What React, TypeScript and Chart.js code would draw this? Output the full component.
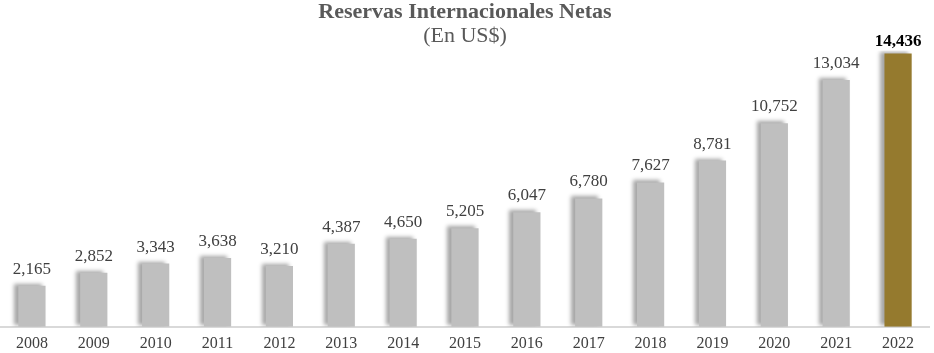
import React, { useEffect, useRef } from "react";
import { Chart, registerables } from "chart.js";

Chart.register(...registerables);

const categories = ["2008", "2009", "2010", "2011", "2012", "2013", "2014", "2015", "2016", "2017", "2018", "2019", "2020", "2021", "2022"];
const reservas = [2165, 2852, 3343, 3638, 3210, 4387, 4650, 5205, 6047, 6780, 7627, 8781, 10752, 13034, 14436];
const titleText = "Reservas Internacionales Netas";
const subtitleText = "(En US$)";

const FONT = '"Liberation Serif", "Times New Roman", serif';
const GRAY = "#BFBFBF";
const GOLD = "#957A2E";

const shadowPlugin = {
  id: "barShadow",
  beforeDatasetsDraw(chart: any) {
    const ctx = chart.ctx;
    ctx.save();
    ctx.shadowColor = "rgba(0,0,0,0.35)";
    ctx.shadowBlur = 4;
    ctx.shadowOffsetX = -4;
    ctx.shadowOffsetY = -2;
  },
  afterDatasetsDraw(chart: any) {
    chart.ctx.restore();
  },
};

const labelPlugin = {
  id: "valueLabels",
  afterDraw(chart: any) {
    const ctx = chart.ctx;
    const meta = chart.getDatasetMeta(0);
    const data = chart.data.datasets[0].data as number[];
    ctx.save();
    ctx.textAlign = "center";
    ctx.textBaseline = "alphabetic";
    meta.data.forEach((bar: any, i: number) => {
      const last = i === data.length - 1;
      ctx.font = `${last ? "bold " : ""}17px ${FONT}`;
      ctx.fillStyle = last ? "#000000" : "#404040";
      ctx.fillText(data[i].toLocaleString("en-US"), bar.x, bar.y - (last ? 8 : 12));
    });
    ctx.restore();
  },
};

export default function App() {
  const ref = useRef<HTMLCanvasElement>(null);
  useEffect(() => {
    if (!ref.current) return;
    const chart = new Chart(ref.current, {
      type: "bar",
      data: {
        labels: categories,
        datasets: [
          {
            data: reservas,
            backgroundColor: reservas.map((_, i) => (i === reservas.length - 1 ? GOLD : GRAY)),
            categoryPercentage: 1,
            barPercentage: 0.44,
          },
        ],
      },
      options: {
        animation: false,
        responsive: true,
        maintainAspectRatio: false,
        layout: { padding: { left: 1, right: 5, top: 0, bottom: -7 } },
        plugins: {
          legend: { display: false },
          tooltip: { enabled: false },
          title: {
            display: true,
            text: titleText,
            color: "#595959",
            font: { family: FONT, size: 22, weight: "bold", lineHeight: 1.1 },
            padding: { top: 0, bottom: 0 },
          },
          subtitle: {
            display: true,
            text: subtitleText,
            color: "#595959",
            font: { family: FONT, size: 22, weight: "normal", lineHeight: 1.1 },
            padding: { top: 0, bottom: 2 },
          },
        },
        scales: {
          x: {
            grid: { display: false, drawTicks: false },
            border: { display: true, color: "#D9D9D9", width: 2 },
            ticks: {
              color: "#404040",
              font: { family: FONT, size: 16, lineHeight: 1.2 },
              padding: 7,
            },
          },
          y: {
            display: false,
            min: 0,
            max: 14600,
          },
        },
      },
      plugins: [shadowPlugin, labelPlugin],
    });
    return () => chart.destroy();
  }, []);
  return (
    <div style={{ position: "fixed", left: 0, top: 0, width: 934, height: 353, background: "#ffffff" }}>
      <canvas ref={ref} />
    </div>
  );
}
